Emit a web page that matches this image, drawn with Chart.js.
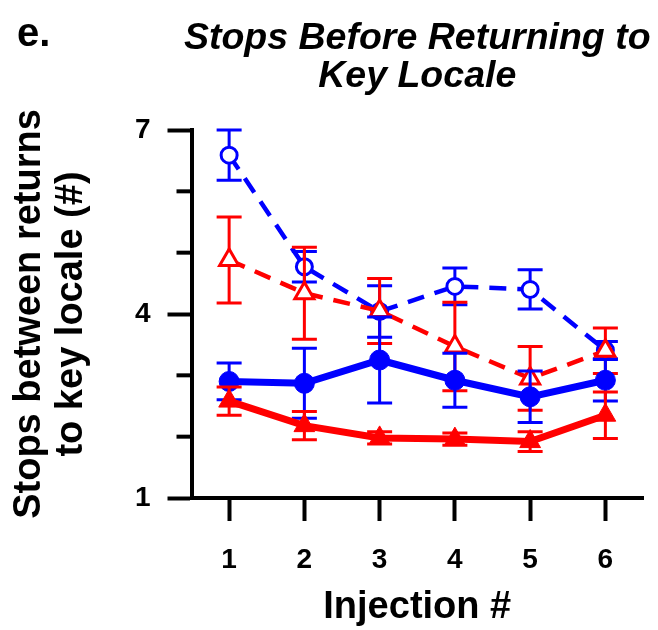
<!DOCTYPE html>
<html>
<head>
<meta charset="utf-8">
<script src="https://cdn.jsdelivr.net/npm/chart.js@4"></script>
<style>
  html, body { margin: 0; padding: 0; background: #fff; }
  #wrap { position: relative; width: 658px; height: 630px; }
</style>
</head>
<body>
<div id="wrap"><canvas id="chart" width="658" height="630"></canvas></div>
<script>
// Injection number on x, stops on y
const injections = ["1", "2", "3", "4", "5", "6"];
const yTicks = [1, 4, 7];
const yMinorTicks = [2, 3, 5, 6];
const titleLines = ["Stops Before Returning to", "Key Locale"];

// open symbols, dashed lines
const blueOpen = [6.59, 4.77, 4.04, 4.45, 4.40, 3.41];
const blueOpenErr = [0.41, 0.25, 0.42, 0.30, 0.32, 0.14];
const redOpen = [4.88, 4.34, 4.05, 3.47, 2.95, 3.40];
const redOpenErr = [0.70, 0.75, 0.53, 0.72, 0.52, 0.37];

// filled symbols, solid lines
const blueFilled = [2.90, 2.87, 3.25, 2.92, 2.65, 2.92];
const blueFilledErr = [0.30, 0.57, 0.70, 0.44, 0.42, 0.34];
const redFilled = [2.58, 2.18, 1.98, 1.96, 1.92, 2.35];
const redFilledErr = [0.23, 0.23, 0.10, 0.10, 0.16, 0.38];

const BLUE = "#0000ff";
const RED = "#ff0000";
const FONT = "'Liberation Sans', Arial, Helvetica, sans-serif";

Chart.defaults.font.family = FONT;
Chart.defaults.color = "#000";

// error bars, drawn just before each dataset so layering follows the datasets
const errorBars = {
  id: "errorBars",
  beforeDatasetDraw(chart, args) {
    const ds = chart.data.datasets[args.index];
    if (!ds.errors) return;
    const y = chart.scales.y;
    const ctx = chart.ctx;
    ctx.save();
    ctx.strokeStyle = ds.borderColor;
    ctx.lineWidth = 3;
    args.meta.data.forEach((pt, i) => {
      const v = ds.data[i];
      const e = ds.errors[i];
      const top = y.getPixelForValue(v + e);
      const bot = y.getPixelForValue(v - e);
      ctx.beginPath();
      ctx.moveTo(pt.x, top);
      ctx.lineTo(pt.x, bot);
      ctx.moveTo(pt.x - 12.5, top);
      ctx.lineTo(pt.x + 12.5, top);
      ctx.moveTo(pt.x - 12.5, bot);
      ctx.lineTo(pt.x + 12.5, bot);
      ctx.stroke();
    });
    ctx.restore();
  },
};

// short unlabeled y ticks, the title (allowed to run past the plot edges) and the panel letter
const extras = {
  id: "extras",
  afterDraw(chart) {
    const ctx = chart.ctx;
    const y = chart.scales.y;
    const { left, right } = chart.chartArea;
    ctx.save();
    ctx.strokeStyle = "#000";
    ctx.lineWidth = 4;
    yMinorTicks.forEach((v) => {
      const py = y.getPixelForValue(v);
      ctx.beginPath();
      ctx.moveTo(left - 15, py);
      ctx.lineTo(left, py);
      ctx.stroke();
    });

    ctx.fillStyle = "#000";
    ctx.font = "italic bold 37.5px " + FONT;
    ctx.textAlign = "center";
    ctx.textBaseline = "middle";
    titleLines.forEach((line, i) => {
      ctx.fillText(line, (left + right) / 2, 39 + i * 38);
    });

    ctx.font = "bold 40px " + FONT;
    ctx.textAlign = "left";
    ctx.textBaseline = "alphabetic";
    ctx.fillText("e.", 17, 46);
    ctx.restore();
  },
};

new Chart(document.getElementById("chart"), {
  type: "line",
  data: {
    labels: injections,
    datasets: [
      {
        data: redFilled,
        errors: redFilledErr,
        borderColor: RED,
        backgroundColor: RED,
        borderWidth: 7,
        pointStyle: "triangle",
        pointRadius: 12,
        pointBorderWidth: 1,
        pointBackgroundColor: RED,
      },
      {
        data: blueFilled,
        errors: blueFilledErr,
        borderColor: BLUE,
        backgroundColor: BLUE,
        borderWidth: 7,
        pointStyle: "circle",
        pointRadius: 10,
        pointBorderWidth: 1,
        pointBackgroundColor: BLUE,
      },
      {
        data: redOpen,
        errors: redOpenErr,
        borderColor: RED,
        borderWidth: 4.5,
        borderDash: [17, 11],
        pointStyle: "triangle",
        pointRadius: 11,
        pointBorderWidth: 3,
        pointBackgroundColor: "#fff",
      },
      {
        data: blueOpen,
        errors: blueOpenErr,
        borderColor: BLUE,
        borderWidth: 4.5,
        borderDash: [17, 11],
        pointStyle: "circle",
        pointRadius: 8,
        pointBorderWidth: 3,
        pointBackgroundColor: "#fff",
      },
    ],
  },
  options: {
    responsive: false,
    animation: false,
    layout: { padding: { top: 130, right: 15, bottom: 0, left: 0 } },
    plugins: {
      legend: { display: false },
      tooltip: { enabled: false },
      title: { display: false },
    },
    scales: {
      x: {
        type: "category",
        offset: true,
        afterFit(scale) {
          scale.height = 132;
        },
        grid: {
          drawOnChartArea: false,
          drawTicks: true,
          tickLength: 23,
          tickWidth: 4,
          tickColor: "#000",
        },
        border: { display: true, color: "#000", width: 4 },
        ticks: {
          padding: 22,
          font: { size: 28, weight: "bold" },
          maxRotation: 0,
        },
        title: {
          display: true,
          text: "Injection #",
          font: { size: 38, weight: "bold", lineHeight: 1.2 },
          padding: { top: 0, bottom: 0 },
        },
      },
      y: {
        min: 1,
        max: 7,
        afterFit(scale) {
          scale.width = 191.5;
        },
        afterBuildTicks(scale) {
          scale.ticks = yTicks.map((v) => ({ value: v }));
        },
        grid: {
          drawOnChartArea: false,
          drawTicks: true,
          tickLength: 24,
          tickWidth: 4,
          tickColor: "#000",
        },
        border: { display: true, color: "#000", width: 4 },
        ticks: {
          padding: 17,
          font: { size: 28, weight: "bold" },
        },
        title: {
          display: true,
          text: ["Stops between returns", "to key locale (#)"],
          font: { size: 38, weight: "bold", lineHeight: 1.1 },
          padding: { top: 9, bottom: 0 },
        },
      },
    },
  },
  plugins: [errorBars, extras],
});
</script>
</body>
</html>
